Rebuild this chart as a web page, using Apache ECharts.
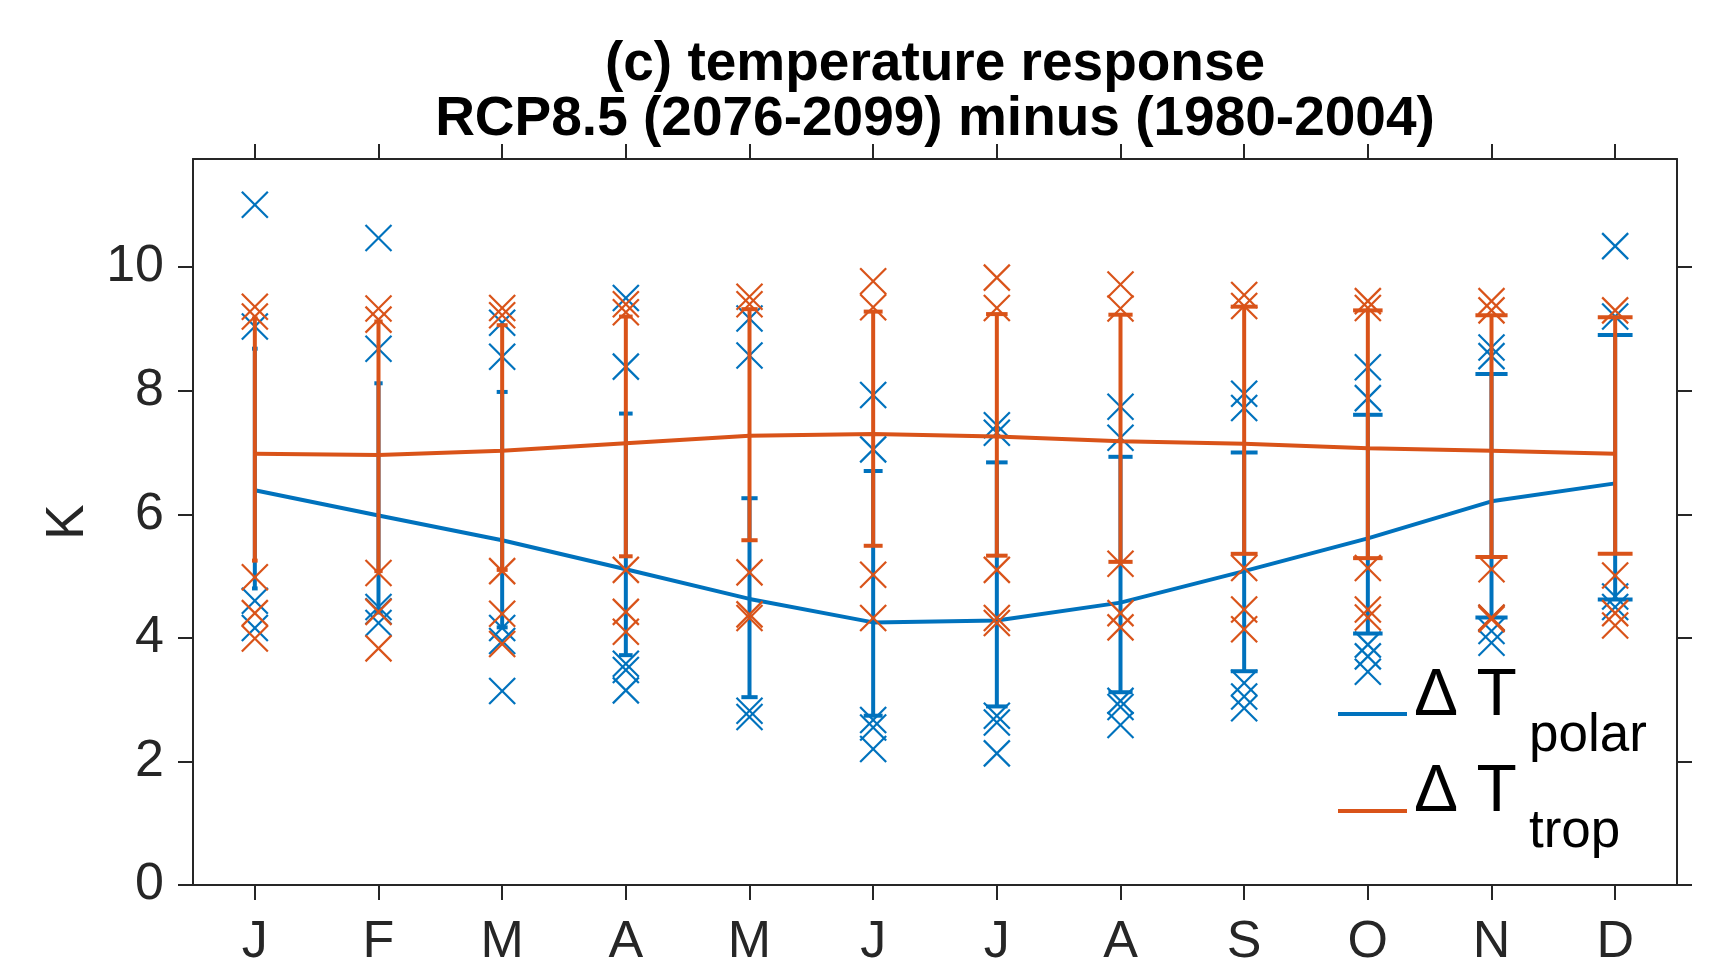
<!DOCTYPE html>
<html>
<head>
<meta charset="utf-8">
<title>temperature response</title>
<script src="https://cdn.jsdelivr.net/npm/echarts@6/dist/echarts.min.js"></script>
<style>
  html, body { margin: 0; padding: 0; background: #fff; }
  #chart { width: 1718px; height: 980px; }
</style>
</head>
<body>
<div id="chart"></div>
<script>
// Month labels
const months = ['J', 'F', 'M', 'A', 'M', 'J', 'J', 'A', 'S', 'O', 'N', 'D'];

// Multi-model mean response (K)
const polarMean = [6.39, 5.98, 5.58, 5.11, 4.63, 4.25, 4.28, 4.57, 5.08, 5.61, 6.21, 6.50];
const tropMean  = [6.98, 6.96, 7.03, 7.15, 7.27, 7.30, 7.26, 7.18, 7.14, 7.07, 7.03, 6.98];

// Error bar ranges (K)
const polarLow  = [4.80, 4.41, 4.17, 3.72, 3.04, 2.74, 2.89, 3.12, 3.46, 4.07, 4.33, 4.62];
const polarHigh = [8.68, 8.12, 7.98, 7.63, 6.26, 6.70, 6.84, 6.93, 7.00, 7.61, 8.27, 8.90];
const tropLow   = [5.25, 5.08, 5.10, 5.32, 5.58, 5.49, 5.33, 5.23, 5.36, 5.29, 5.31, 5.36];
const tropHigh  = [9.17, 9.12, 9.06, 9.20, 9.32, 9.28, 9.24, 9.23, 9.36, 9.30, 9.22, 9.19];

// Individual model values per month (K)
const polarModels = [
  [11.01, 9.04, 4.60, 4.16],
  [10.47, 8.68, 4.50, 4.43, 4.24],
  [9.10, 8.55, 4.16, 3.95, 3.14],
  [9.50, 8.39, 3.58, 3.48, 3.15],
  [9.17, 8.57, 2.82, 2.72],
  [7.93, 7.05, 2.67, 2.55, 2.20],
  [7.44, 7.32, 2.74, 2.63, 2.13],
  [7.74, 7.24, 2.98, 2.88, 2.59],
  [7.95, 7.72, 3.27, 3.05, 2.86],
  [8.38, 7.88, 3.89, 3.70, 3.45],
  [8.70, 8.56, 4.32, 4.11, 3.92],
  [10.34, 9.20, 4.67, 4.50]
];
const tropModels = [
  [9.36, 9.20, 4.98, 4.40, 3.99],
  [9.33, 9.15, 5.05, 4.42, 3.83],
  [9.34, 9.22, 5.08, 4.39, 3.90],
  [9.40, 9.27, 5.10, 4.42, 4.10],
  [9.52, 9.40, 5.06, 4.38, 4.32],
  [9.77, 9.35, 5.02, 4.32],
  [9.83, 9.34, 5.10, 4.32, 4.24],
  [9.72, 9.33, 5.20, 4.40, 4.17],
  [9.55, 9.37, 5.13, 4.46, 4.14],
  [9.45, 9.34, 5.13, 4.46, 4.33],
  [9.45, 9.30, 5.11, 4.33, 4.30],
  [9.30, 5.01, 4.40, 4.20]
];

// Y-axis ticks
const yTicks = [0, 2, 4, 6, 8, 10];

const BLUE = '#0072BD';
const ORANGE = '#D95319';
const AXIS = '#262626';
const FONT = '"Liberation Sans", Arial, Helvetica, sans-serif';

function errorBarData(lo, hi) {
  return lo.map((v, i) => [i, v, hi[i]]);
}
function modelData(models) {
  const out = [];
  models.forEach((vals, i) => vals.forEach(v => out.push([i, v])));
  return out;
}

// Vertical bar with caps; cap width grows with the month index
function renderErrorBar(color) {
  return function (params, api) {
    const i = api.value(0);
    const lo = api.coord([i, api.value(1)]);
    const hi = api.coord([i, api.value(2)]);
    const half = (3 + 2.65 * (i + 1)) / 2;
    return {
      type: 'group',
      children: [
        { type: 'line', shape: { x1: lo[0], y1: lo[1], x2: hi[0], y2: hi[1] },
          style: { stroke: color, lineWidth: 4 } },
        { type: 'line', shape: { x1: lo[0] - half, y1: lo[1], x2: lo[0] + half, y2: lo[1] },
          style: { stroke: color, lineWidth: 4 } },
        { type: 'line', shape: { x1: hi[0] - half, y1: hi[1], x2: hi[0] + half, y2: hi[1] },
          style: { stroke: color, lineWidth: 4 } }
      ]
    };
  };
}

// 'x' marker for each model value
function renderCross(color) {
  return function (params, api) {
    const p = api.coord([api.value(0), api.value(1)]);
    const h = 13;
    return {
      type: 'group',
      children: [
        { type: 'line', shape: { x1: p[0] - h, y1: p[1] - h, x2: p[0] + h, y2: p[1] + h },
          style: { stroke: color, lineWidth: 2.2 } },
        { type: 'line', shape: { x1: p[0] - h, y1: p[1] + h, x2: p[0] + h, y2: p[1] - h },
          style: { stroke: color, lineWidth: 2.2 } }
      ]
    };
  };
}

const chart = echarts.init(document.getElementById('chart'), null, { renderer: 'canvas' });

const axisLine = { show: true, onZero: false, lineStyle: { color: AXIS, width: 2 } };
const axisTick = { show: true, inside: false, length: 15, alignWithLabel: true,
                   lineStyle: { color: AXIS, width: 2 } };

chart.setOption({
  animation: false,
  backgroundColor: '#ffffff',
  textStyle: { fontFamily: FONT },
  grid: { left: 193, right: 41, top: 159, bottom: 95, containLabel: false },
  xAxis: [
    {
      type: 'category', data: months, position: 'bottom', boundaryGap: true,
      axisLine: axisLine, axisTick: axisTick,
      axisLabel: { color: AXIS, fontSize: 52, fontFamily: FONT, margin: 32, interval: 0 },
      splitLine: { show: false }
    },
    {
      type: 'category', data: months, position: 'top', boundaryGap: true,
      axisLine: axisLine, axisTick: axisTick,
      axisLabel: { show: false }, splitLine: { show: false }
    }
  ],
  yAxis: [
    {
      type: 'value', min: 0, max: 11.75, position: 'left',
      name: 'K', nameLocation: 'middle', nameGap: 98, nameRotate: 90,
      nameTextStyle: { color: AXIS, fontSize: 53, fontFamily: FONT },
      axisLine: axisLine,
      axisTick: { show: true, inside: false, length: 15, customValues: yTicks,
                  lineStyle: { color: AXIS, width: 2 } },
      axisLabel: { color: AXIS, fontSize: 52, fontFamily: FONT, margin: 29,
                   customValues: yTicks,
                   formatter: v => (v % 2 === 0 ? String(v) : '') },
      splitLine: { show: false }
    },
    {
      type: 'value', min: 0, max: 11.75, position: 'right',
      axisLine: axisLine,
      axisTick: { show: true, inside: false, length: 15, customValues: yTicks,
                  lineStyle: { color: AXIS, width: 2 } },
      axisLabel: { show: false }, splitLine: { show: false }
    }
  ],
  series: [
    {
      name: 'polar range', type: 'custom', xAxisIndex: 0, yAxisIndex: 0, z: 2,
      renderItem: renderErrorBar(BLUE), data: errorBarData(polarLow, polarHigh)
    },
    {
      name: 'polar', type: 'line', xAxisIndex: 0, yAxisIndex: 0, z: 3,
      data: polarMean, symbol: 'none', lineStyle: { color: BLUE, width: 4 }
    },
    {
      name: 'polar models', type: 'custom', xAxisIndex: 0, yAxisIndex: 0, z: 4,
      renderItem: renderCross(BLUE), data: modelData(polarModels)
    },
    {
      name: 'trop range', type: 'custom', xAxisIndex: 0, yAxisIndex: 0, z: 5,
      renderItem: renderErrorBar(ORANGE), data: errorBarData(tropLow, tropHigh)
    },
    {
      name: 'trop', type: 'line', xAxisIndex: 0, yAxisIndex: 0, z: 6,
      data: tropMean, symbol: 'none', lineStyle: { color: ORANGE, width: 4 }
    },
    {
      name: 'trop models', type: 'custom', xAxisIndex: 0, yAxisIndex: 0, z: 7,
      renderItem: renderCross(ORANGE), data: modelData(tropModels)
    }
  ],
  graphic: [
    // Title
    { type: 'text', x: 935, y: 65, z: 100,
      style: { text: '(c) temperature response', fill: '#000', textAlign: 'center',
               textVerticalAlign: 'middle', font: 'bold 55px ' + FONT } },
    { type: 'text', x: 935, y: 120, z: 100,
      style: { text: 'RCP8.5 (2076-2099) minus (1980-2004)', fill: '#000', textAlign: 'center',
               textVerticalAlign: 'middle', font: 'bold 55px ' + FONT } },
    // Legend
    { type: 'line', z: 100, shape: { x1: 1338, y1: 714, x2: 1407, y2: 714 },
      style: { stroke: BLUE, lineWidth: 4 } },
    { type: 'text', x: 1414, y: 697, z: 100,
      style: { text: 'Δ T', fill: '#000', textAlign: 'left', textVerticalAlign: 'middle',
               font: '66px ' + FONT } },
    { type: 'text', x: 1529, y: 736, z: 100,
      style: { text: 'polar', fill: '#000', textAlign: 'left', textVerticalAlign: 'middle',
               font: '53px ' + FONT } },
    { type: 'line', z: 100, shape: { x1: 1338, y1: 811, x2: 1407, y2: 811 },
      style: { stroke: ORANGE, lineWidth: 4 } },
    { type: 'text', x: 1414, y: 793, z: 100,
      style: { text: 'Δ T', fill: '#000', textAlign: 'left', textVerticalAlign: 'middle',
               font: '66px ' + FONT } },
    { type: 'text', x: 1529, y: 832, z: 100,
      style: { text: 'trop', fill: '#000', textAlign: 'left', textVerticalAlign: 'middle',
               font: '53px ' + FONT } }
  ]
});
</script>
</body>
</html>
